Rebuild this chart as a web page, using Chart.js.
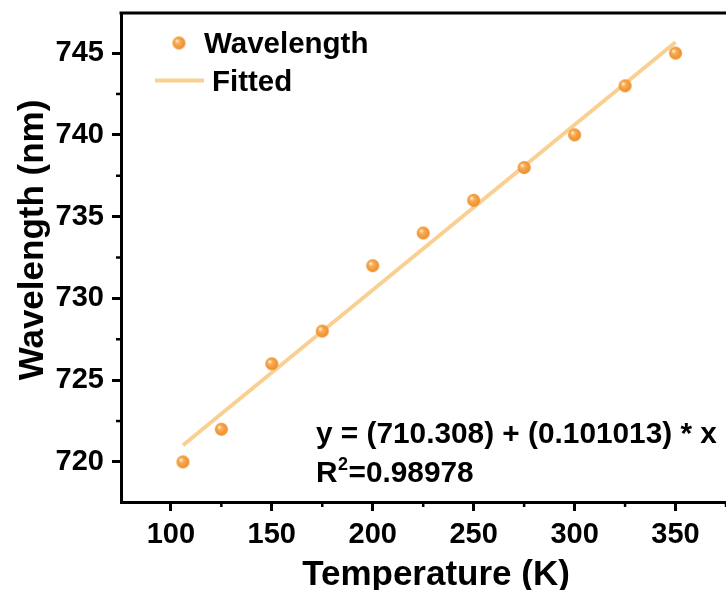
<!DOCTYPE html>
<html>
<head>
<meta charset="utf-8">
<script src="https://cdn.jsdelivr.net/npm/chart.js@4/dist/chart.umd.min.js"></script>
<style>
html,body{margin:0;padding:0;background:#fff;}
#wrap{width:726px;height:590px;position:relative;}
</style>
</head>
<body>
<div id="wrap"><canvas id="c" width="726" height="590"></canvas></div>
<script>
// Data
const temperatures = [106, 125, 150, 175, 200, 225, 250, 275, 300, 325, 350];
const wavelengths = [720, 722, 726, 728, 732, 734, 736, 738, 740, 743, 745];
const fitX = [106, 350];
const fitY = [721.02, 745.66];
const xTickLabels = [100, 150, 200, 250, 300, 350];
const yTickLabels = [720, 725, 730, 735, 740, 745];
const seriesNames = ['Wavelength', 'Fitted'];
const xTitle = 'Temperature (K)';
const yTitle = 'Wavelength (nm)';
const equationText = 'y = (710.308) + (0.101013) * x';
const r2Value = '0.98978';

const FONT = '"Liberation Sans", Arial, sans-serif';

function sphere(r) {
  const c = document.createElement('canvas');
  const s = r * 2 + 2;
  c.width = s; c.height = s;
  const g = c.getContext('2d');
  const cx = s / 2, cy = s / 2;
  const grad = g.createRadialGradient(cx - r * 0.35, cy - r * 0.35, 0.5, cx, cy, r);
  grad.addColorStop(0, '#FFF1DC');
  grad.addColorStop(0.3, '#F9AE55');
  grad.addColorStop(1, '#EE8A26');
  g.fillStyle = grad;
  g.beginPath(); g.arc(cx, cy, r, 0, Math.PI * 2); g.fill();
  return c;
}
const ball = sphere(6.5);

const lineColor = 'rgba(250, 205, 140, 0.95)';

const overlay = {
  id: 'overlay',
  afterDraw(chart) {
    const ctx = chart.ctx;
    const a = chart.chartArea;
    const xs = chart.scales.x, ys = chart.scales.y;
    ctx.save();
    // top border
    ctx.strokeStyle = '#000';
    ctx.lineWidth = 3;
    ctx.beginPath(); ctx.moveTo(a.left - 1.5, a.top); ctx.lineTo(chart.width, a.top); ctx.stroke();
    // minor ticks
    ctx.lineWidth = 2.5;
    for (let v = 75; v <= 375; v += 50) {
      const px = xs.getPixelForValue(v);
      if (px < a.left || px > a.right + 1) continue;
      ctx.beginPath(); ctx.moveTo(px, a.bottom); ctx.lineTo(px, a.bottom + 5); ctx.stroke();
    }
    for (let v = 717.5; v <= 747.5; v += 5) {
      const py = ys.getPixelForValue(v);
      if (py < a.top || py > a.bottom) continue;
      ctx.beginPath(); ctx.moveTo(a.left, py); ctx.lineTo(a.left - 5, py); ctx.stroke();
    }
    ctx.fillStyle = '#000';
    ctx.textBaseline = 'alphabetic';
    // axis titles
    ctx.font = 'bold 35px ' + FONT;
    ctx.textAlign = 'center';
    ctx.fillText(xTitle, 436, 585);
    ctx.save();
    ctx.translate(43, 240);
    ctx.rotate(-Math.PI / 2);
    ctx.font = 'bold 35px ' + FONT;
    ctx.fillText(yTitle, 0, 0);
    ctx.restore();
    // legend
    ctx.textAlign = 'left';
    ctx.drawImage(ball, 179 - ball.width / 2, 43 - ball.height / 2);
    ctx.font = 'bold 29.5px ' + FONT;
    ctx.fillText(seriesNames[0], 204, 53);
    ctx.strokeStyle = lineColor;
    ctx.lineWidth = 4;
    ctx.beginPath(); ctx.moveTo(155, 80.5); ctx.lineTo(204, 80.5); ctx.stroke();
    ctx.fillText(seriesNames[1], 212, 91);
    // equation annotation
    ctx.font = 'bold 29.8px ' + FONT;
    const ex = 316;
    ctx.fillText(equationText, ex, 443);
    const ry = 482;
    ctx.fillText('R', ex, ry);
    const rw = ctx.measureText('R').width;
    ctx.font = 'bold 18px ' + FONT;
    ctx.fillText('2', ex + rw + 0.5, ry - 12);
    const tw = ctx.measureText('2').width;
    ctx.font = 'bold 29.8px ' + FONT;
    ctx.fillText('=' + r2Value, ex + rw + tw + 1, ry);
    ctx.restore();
  }
};

new Chart(document.getElementById('c'), {
  type: 'scatter',
  data: {
    datasets: [
      {
        label: seriesNames[1],
        type: 'line',
        data: fitX.map((x, i) => ({ x: x, y: fitY[i] })),
        borderColor: lineColor,
        borderWidth: 4,
        pointRadius: 0,
        fill: false,
        order: 2
      },
      {
        label: seriesNames[0],
        data: temperatures.map((t, i) => ({ x: t, y: wavelengths[i] })),
        pointStyle: ball,
        pointRadius: 6.5,
        order: 1
      }
    ]
  },
  options: {
    responsive: false,
    animation: false,
    devicePixelRatio: 1,
    layout: { autoPadding: false, padding: { left: 0, top: 13, right: 0, bottom: 0 } },
    plugins: { legend: { display: false }, tooltip: { enabled: false } },
    scales: {
      x: {
        type: 'linear',
        min: 75.3, max: 375,
        afterBuildTicks(scale) { scale.ticks = xTickLabels.map(v => ({ value: v })); },
        afterFit(scale) { scale.height = 88; scale.paddingLeft = 0; scale.paddingRight = 0; },
        grid: { drawOnChartArea: false, tickLength: 9, tickWidth: 3, tickColor: '#000' },
        border: { display: true, color: '#000', width: 3 },
        ticks: { color: '#000', font: { family: FONT, weight: 'bold', size: 29 }, padding: 7 },
        title: { display: false }
      },
      y: {
        type: 'linear',
        min: 717.55, max: 747.45,
        afterBuildTicks(scale) { scale.ticks = yTickLabels.map(v => ({ value: v })); },
        afterFit(scale) { scale.width = 121; scale.paddingTop = 0; scale.paddingBottom = 0; },
        grid: { drawOnChartArea: false, tickLength: 9, tickWidth: 3, tickColor: '#000' },
        border: { display: true, color: '#000', width: 3 },
        ticks: { color: '#000', font: { family: FONT, weight: 'bold', size: 29 }, padding: 8 },
        title: { display: false }
      }
    }
  },
  plugins: [overlay]
});
</script>
</body>
</html>
